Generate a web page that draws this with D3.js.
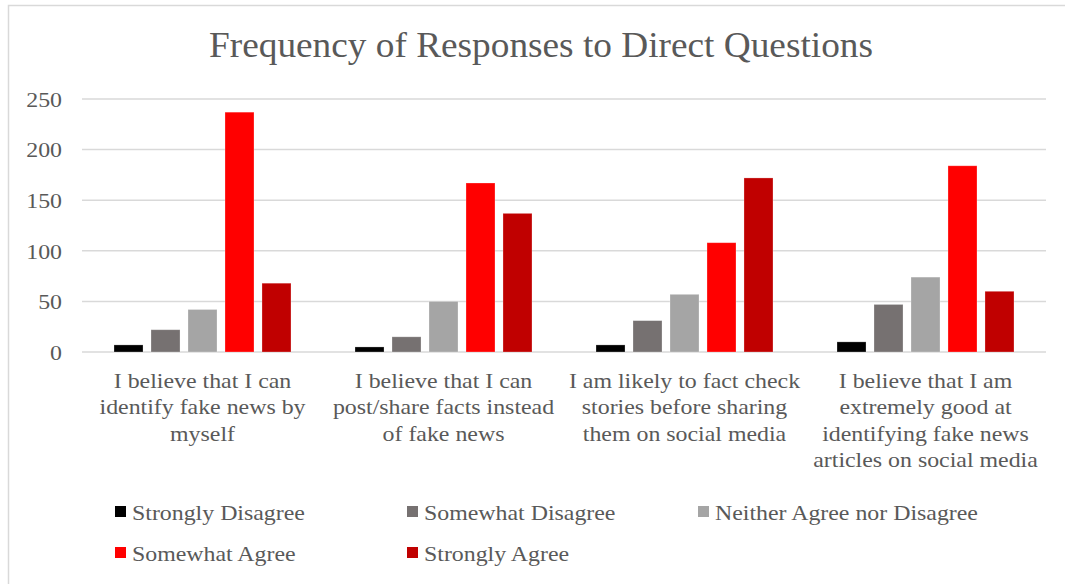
<!DOCTYPE html>
<html>
<head>
<meta charset="utf-8">
<script src="https://cdn.jsdelivr.net/npm/d3@7"></script>
<style>
  html, body { margin: 0; padding: 0; background: #ffffff; }
  svg { display: block; }
  text { font-family: "Liberation Serif", "Times New Roman", serif; fill: #595959; }
</style>
</head>
<body>
<svg id="chart" width="1065" height="584"></svg>
<script>
// Survey questions (x-axis categories), pre-split into label lines
const categories = [
  ["I believe that I can", "identify fake news by", "myself"],
  ["I believe that I can", "post/share facts instead", "of fake news"],
  ["I am likely to fact check", "stories before sharing", "them on social media"],
  ["I believe that I am", "extremely good at", "identifying fake news", "articles on social media"]
];

// Response options, in legend order
const seriesNames = [
  "Strongly Disagree",
  "Somewhat Disagree",
  "Neither Agree nor Disagree",
  "Somewhat Agree",
  "Strongly Agree"
];
const seriesColors = ["#000000", "#767171", "#a5a5a5", "#ff0000", "#c00000"];

// Response counts per question
const stronglyDisagree = [7, 5, 7, 10];
const somewhatDisagree = [22, 15, 31, 47];
const neither          = [42, 50, 57, 74];
const somewhatAgree    = [237, 167, 108, 184];
const stronglyAgree    = [68, 137, 172, 60];

const yTicks = [0, 50, 100, 150, 200, 250];

const seriesValues = [stronglyDisagree, somewhatDisagree, neither, somewhatAgree, stronglyAgree];

const svg = d3.select("#chart");
const W = 1065, H = 584;
const plot = { left: 82, right: 1046, top: 99, bottom: 352 };
const SX = 1.085; // slightly wide lettering

// Chart frame
svg.append("rect")
  .attr("x", 8.5).attr("y", 5.5)
  .attr("width", W).attr("height", H)
  .attr("fill", "#ffffff")
  .attr("stroke", "#d9d9d9").attr("stroke-width", 1.5);

// Title
svg.append("text")
  .attr("transform", `translate(541,57) scale(1.066,1)`)
  .attr("text-anchor", "middle")
  .style("font-size", "35px")
  .text("Frequency of Responses to Direct Questions");

const groupKeys = categories.map((_, i) => i);
const x0 = d3.scaleBand()
  .domain(groupKeys)
  .range([plot.left, plot.right])
  .paddingInner(0.2656)
  .paddingOuter(0.1328);

const x1 = d3.scaleBand()
  .domain(seriesNames.map((_, i) => i))
  .range([0, x0.bandwidth()])
  .paddingInner(0.216)
  .paddingOuter(0);

const y = d3.scaleLinear().domain([0, 250]).range([plot.bottom, plot.top]);

// Gridlines
svg.append("g")
  .selectAll("line")
  .data(yTicks)
  .join("line")
  .attr("x1", plot.left).attr("x2", plot.right)
  .attr("y1", d => y(d)).attr("y2", d => y(d))
  .attr("stroke", "#d9d9d9").attr("stroke-width", 1.5);

// Y axis labels
const yAxis = d3.axisLeft(y).tickValues(yTicks).tickSize(0).tickPadding(0);
const yg = svg.append("g")
  .attr("transform", `translate(62,0)`)
  .call(yAxis);
yg.select(".domain").remove();
yg.selectAll(".tick text")
  .attr("x", null)
  .attr("transform", `scale(${SX},1)`)
  .style("font-size", "22px")
  .style("font-family", "'Liberation Serif', 'Times New Roman', serif")
  .attr("fill", "#595959")
  .attr("dy", "0.33em");

// Bars
const groups = svg.append("g")
  .selectAll("g")
  .data(groupKeys)
  .join("g")
  .attr("transform", d => `translate(${x0(d)},0)`);

groups.selectAll("rect")
  .data(gi => seriesValues.map((vals, si) => ({ si, v: vals[gi] })))
  .join("rect")
  .attr("x", d => x1(d.si))
  .attr("width", x1.bandwidth())
  .attr("y", d => y(d.v))
  .attr("height", d => y(0) - y(d.v))
  .attr("fill", d => seriesColors[d.si])
  .attr("stroke", "#ffffff").attr("stroke-opacity", 0.35).attr("stroke-width", 0.75);

// Category labels
const labels = svg.append("g")
  .selectAll("text")
  .data(groupKeys)
  .join("text")
  .attr("text-anchor", "middle")
  .attr("transform", gi => `translate(${x0(gi) + x0.bandwidth() / 2},0) scale(${SX},1)`)
  .style("font-size", "22px");
labels.each(function(gi) {
  d3.select(this).selectAll("tspan")
    .data(categories[gi])
    .join("tspan")
    .attr("x", 0)
    .attr("y", (d, i) => 388 + i * 26.5)
    .text(d => d);
});

// Legend
const legendPos = [
  { x: 115, y: 512 }, { x: 407, y: 512 }, { x: 698, y: 512 },
  { x: 115, y: 553 }, { x: 407, y: 553 }
];
const legend = svg.append("g")
  .selectAll("g")
  .data(seriesNames)
  .join("g")
  .attr("transform", (d, i) => `translate(${legendPos[i].x},${legendPos[i].y})`);
legend.append("rect")
  .attr("x", 0).attr("y", -6)
  .attr("width", 11).attr("height", 11)
  .attr("fill", (d, i) => seriesColors[i]);
legend.append("text")
  .attr("transform", `translate(17,7.5) scale(${SX},1)`)
  .style("font-size", "22px")
  .text(d => d);
</script>
</body>
</html>
